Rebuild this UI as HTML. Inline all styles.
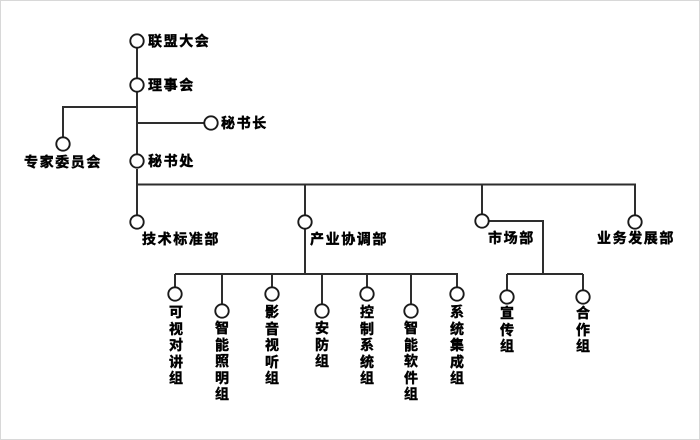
<!DOCTYPE html>
<html>
<head>
<meta charset="utf-8">
<style>
  html,body{margin:0;padding:0;background:#fff;}
  #wrap{position:relative;width:700px;height:440px;overflow:hidden;background:#fff;}
  #frame{position:absolute;left:0;top:0;width:698px;height:438px;border:1px solid #d8d8d8;}
  svg{position:absolute;left:0;top:0;}
  .t{position:absolute;font-family:"Liberation Sans","Noto Sans CJK SC",sans-serif;font-weight:bold;font-size:14px;line-height:16px;color:#000;-webkit-text-stroke:0.45px #000;letter-spacing:1.6px;white-space:nowrap;}
  .v{position:absolute;font-family:"Liberation Sans","Noto Sans CJK SC",sans-serif;font-weight:bold;font-size:14px;line-height:16.6px;color:#000;-webkit-text-stroke:0.45px #000;width:20px;text-align:center;}
</style>
</head>
<body>
<div id="wrap">
  <div id="frame"></div>
  <svg width="700" height="440" viewBox="0 0 700 440">
    <g stroke="#2e2e2e" stroke-width="2" fill="none">
      <line x1="137" y1="48" x2="137" y2="78"/>
      <line x1="137" y1="92" x2="137" y2="155"/>
      <line x1="137" y1="169" x2="137" y2="215"/>
      <polyline points="137,107 63,107 63,137"/>
      <line x1="137" y1="123" x2="204" y2="123"/>
      <line x1="137" y1="184.5" x2="636" y2="184.5"/>
      <line x1="305" y1="184" x2="305" y2="215"/>
      <line x1="482" y1="184" x2="482" y2="215"/>
      <line x1="635" y1="184" x2="635" y2="215"/>
      <line x1="305" y1="229" x2="305" y2="274"/>
      <line x1="175" y1="274" x2="458" y2="274"/>
      <line x1="175" y1="274" x2="175" y2="287"/>
      <line x1="222" y1="274" x2="222" y2="304"/>
      <line x1="272" y1="274" x2="272" y2="287"/>
      <line x1="322" y1="274" x2="322" y2="304"/>
      <line x1="367" y1="274" x2="367" y2="287"/>
      <line x1="411" y1="274" x2="411" y2="304"/>
      <line x1="457" y1="274" x2="457" y2="287"/>
      <polyline points="489,221 543,221 543,274"/>
      <line x1="507" y1="274" x2="583" y2="274"/>
      <line x1="507" y1="274" x2="507" y2="290"/>
      <line x1="583" y1="274" x2="583" y2="290"/>
    </g>
    <g stroke="#1a1a1a" stroke-width="1.9" fill="#fff">
      <circle cx="137" cy="41" r="6.7"/>
      <circle cx="137" cy="85" r="6.7"/>
      <circle cx="63" cy="144" r="6.7"/>
      <circle cx="211" cy="123" r="6.7"/>
      <circle cx="137" cy="161" r="6.7"/>
      <circle cx="137" cy="222" r="6.7"/>
      <circle cx="305" cy="222" r="6.7"/>
      <circle cx="482" cy="221" r="6.7"/>
      <circle cx="635" cy="222" r="6.7"/>
      <circle cx="175" cy="294" r="6.7"/>
      <circle cx="222" cy="311" r="6.7"/>
      <circle cx="272" cy="294" r="6.7"/>
      <circle cx="322" cy="311" r="6.7"/>
      <circle cx="367" cy="294" r="6.7"/>
      <circle cx="411" cy="311" r="6.7"/>
      <circle cx="457" cy="294" r="6.7"/>
      <circle cx="507" cy="297" r="6.7"/>
      <circle cx="583" cy="297" r="6.7"/>
    </g>
  </svg>

  <div class="t" style="left:148px;top:33px;">联盟大会</div>
  <div class="t" style="left:148px;top:77px;">理事会</div>
  <div class="t" style="left:221px;top:115px;">秘书长</div>
  <div class="t" style="left:24px;top:154px;">专家委员会</div>
  <div class="t" style="left:148px;top:153px;">秘书处</div>
  <div class="t" style="left:142px;top:231px;">技术标准部</div>
  <div class="t" style="left:310px;top:231px;">产业协调部</div>
  <div class="t" style="left:488px;top:230px;">市场部</div>
  <div class="t" style="left:597px;top:230px;">业务发展部</div>

  <div class="v" style="left:166px;top:304px;">可<br>视<br>对<br>讲<br>组</div>
  <div class="v" style="left:212px;top:320px;">智<br>能<br>照<br>明<br>组</div>
  <div class="v" style="left:262px;top:304px;">影<br>音<br>视<br>听<br>组</div>
  <div class="v" style="left:312px;top:320px;">安<br>防<br>组</div>
  <div class="v" style="left:357px;top:304px;">控<br>制<br>系<br>统<br>组</div>
  <div class="v" style="left:401px;top:320px;">智<br>能<br>软<br>件<br>组</div>
  <div class="v" style="left:447px;top:304px;">系<br>统<br>集<br>成<br>组</div>
  <div class="v" style="left:497px;top:305px;">宣<br>传<br>组</div>
  <div class="v" style="left:573px;top:305px;">合<br>作<br>组</div>
</div>
</body>
</html>
